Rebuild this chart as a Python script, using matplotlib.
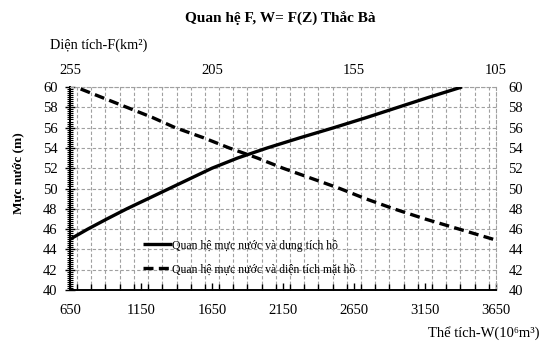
import matplotlib
matplotlib.use("Agg")
import matplotlib.pyplot as plt
from matplotlib.ticker import MultipleLocator, FixedLocator

plt.rcParams['font.family'] = ['Liberation Serif', 'DejaVu Serif']

# Data
levels_w = [45, 46, 47, 48, 49, 50, 51, 52, 53, 54, 55, 56, 57, 58, 59, 60]
volume = [650, 775, 910, 1050, 1200, 1350, 1500, 1650, 1830, 2040, 2270, 2510, 2740, 2960, 3180, 3410]

levels_f = [45, 46, 47, 48, 49, 50, 51, 52, 53, 54, 55, 56, 57, 58, 59, 60]
area = [106, 118, 130, 141, 151, 160, 170, 180, 189, 199, 208, 218, 226, 235, 244, 253]

w_ticks = [650, 1150, 1650, 2150, 2650, 3150, 3650]
f_ticks = [255, 205, 155, 105]
z_ticks = list(range(40, 61, 2))

title = "Quan hệ F, W= F(Z) Thắc Bà"
label_w = "Quan hệ mực nước và dung tích hồ"
label_f = "Quan hệ mực nước và diện tích mặt hồ"

fig = plt.figure(figsize=(5.6, 3.55), dpi=100)
ax = fig.add_axes([70/560, 1-290/355, 426/560, 203/355])

grid_kw = dict(color='#a0a0a0', linewidth=0.8, linestyle=(0, (3, 2)))

ax.set_xlim(650, 3650)
ax.set_ylim(40, 60)
ax.xaxis.set_major_locator(FixedLocator(w_ticks))
ax.xaxis.set_minor_locator(MultipleLocator(100))
ax.yaxis.set_major_locator(FixedLocator(z_ticks))
ax.yaxis.set_minor_locator(MultipleLocator(0.2))
ax.grid(True, which='minor', axis='x', **grid_kw)
ax.grid(True, which='major', axis='y', **grid_kw)
ax.set_axisbelow(True)

line_w, = ax.plot(volume, levels_w, color='black', linewidth=2.4, solid_capstyle='butt', label=label_w, zorder=3)

ax.tick_params(axis='x', which='both', direction='in', length=4, width=1, labelsize=10.5, pad=10)
ax.tick_params(axis='x', which='major', length=5)
ax.tick_params(axis='y', which='major', direction='inout', length=7, width=1, labelsize=10.5,
               labelright=True, pad=5.5)
ax.tick_params(axis='y', which='minor', direction='inout', length=4, width=0.8, right=False)

for s in ['left', 'bottom']:
    ax.spines[s].set_linewidth(1.4)
    ax.spines[s].set_color('black')
for s in ['top', 'right']:
    ax.spines[s].set_color('#a0a0a0')
    ax.spines[s].set_linewidth(0.8)
    ax.spines[s].set_linestyle((0, (3, 2)))

for t in ax.yaxis.get_major_ticks():
    t.tick2line.set_visible(False)

ax2 = ax.twiny()
ax2.set_xlim(255, 105)
ax2.xaxis.set_major_locator(FixedLocator(f_ticks))
ax2.tick_params(axis='x', length=0, labelsize=10.5, pad=7)
for s in ax2.spines.values():
    s.set_visible(False)
line_f, = ax2.plot(area, levels_f, color='black', linewidth=2.4, linestyle=(0, (3, 1.6)), label=label_f, zorder=3)

ax.set_ylabel("Mực nước (m)", fontsize=9.5, fontweight='bold')
ax.yaxis.set_label_coords(-0.106, 0.576)

leg = ax2.legend([line_w, line_f], [label_w, label_f], loc='lower left',
                 bbox_to_anchor=(0.147, 0.02), frameon=False, fontsize=8.5,
                 handlelength=2.4, handletextpad=0.05, labelspacing=1.0)

fig.text(280/560, 1-18/355, title, ha='center', va='center', fontsize=11, fontweight='bold')
fig.text(50/560, 1-45/355, "Diện tích-F(km²)", ha='left', va='center', fontsize=10.3)
fig.text(540/560, 1-333/355, "Thể tích-W(10⁶m³)", ha='right', va='center', fontsize=10.5)

fig.savefig("out.png", dpi=100)
